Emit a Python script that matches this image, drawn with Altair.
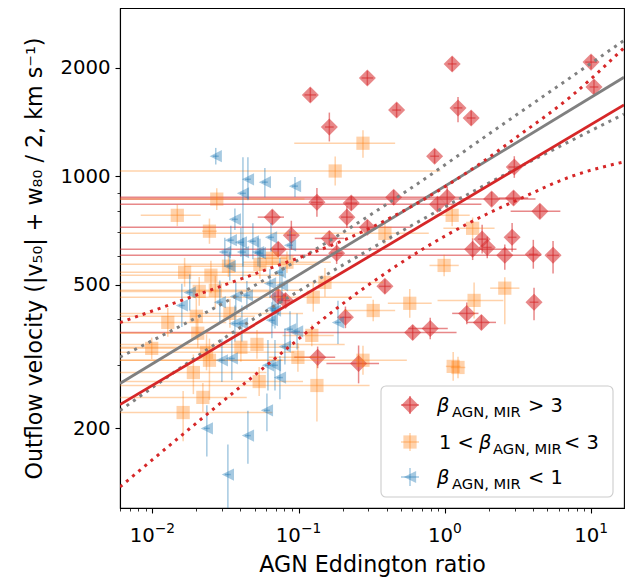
import altair as alt
import numpy as np
import pandas as pd

FONT = "DejaVu Sans"
RED = "#d62728"
ORANGE = "#ff7f0e"
BLUE = "#1f77b4"
GRAY = "#808080"

# ---------------- data (log10 values) ----------------
# beta_AGN,MIR > 3  (red diamonds)
red_log_edd = [-0.92, -0.79, -0.53, 0.05, -0.33, 0.09, 0.18, -0.07, 1.00, 1.02,
               0.475, -0.35, 0.016, -0.05, 0.32, 0.47, 0.65, 0.255, 0.29, 0.19,
               0.46, 0.41, 0.605, 0.74, -0.41, 0.61, 0.15, 0.25, -0.22, -0.10,
               -0.875, -0.64, -0.67, -1.18, -1.05, -0.79, -0.74, -1.14, -0.53, -1.14,
               -1.09, -0.68, -0.87, -0.59]
red_log_vel = [3.225, 3.136, 3.272, 3.311, 3.183, 3.189, 3.161, 3.055, 3.316, 3.247,
               3.025, 2.941, 2.941, 2.922, 2.936, 2.939, 2.902, 2.825, 2.802, 2.797,
               2.830, 2.780, 2.783, 2.780, 2.694, 2.650, 2.619, 2.594, 2.566, 2.577,
               2.927, 2.925, 2.886, 2.886, 2.836, 2.827, 2.786, 2.797, 2.858, 2.666,
               2.655, 2.608, 2.497, 2.480]
red_xerr_lo = [0.04, 0.03, 0.04, 0.03, 0.03, 0.03, 0.03, 0.03, 0.04, 0.03,
               0.04, 3.0, 0.15, 3.0, 3.0, 0.10, 0.20, 0.03, 0.03, 3.0,
               0.03, 3.0, 0.03, 0.04, 0.04, 0.03, 0.10, 0.10, 3.0, 0.15,
               0.04, 0.04, 0.04, 0.10, 0.03, 0.10, 0.04, 0.04, 3.0, 0.03,
               0.03, 0.04, 0.16, 0.22]
red_xerr_hi = [0.04, 0.03, 0.04, 0.03, 0.03, 0.03, 0.03, 0.03, 0.04, 0.03,
               0.04, 0.25, 0.10, 0.30, 0.30, 0.10, 0.14, 0.03, 0.03, 0.30,
               0.03, 0.25, 0.03, 0.04, 0.04, 0.03, 0.08, 0.10, 0.30, 0.12,
               0.04, 0.04, 0.04, 0.08, 0.03, 0.10, 0.04, 0.04, 0.30, 0.03,
               0.03, 0.04, 0.12, 0.14]
red_yerr_lo = [0.02, 0.04, 0.02, 0.02, 0.02, 0.04, 0.02, 0.02, 0.02, 0.02,
               0.03, 0.02, 0.03, 0.02, 0.02, 0.02, 0.02, 0.04, 0.03, 0.03,
               0.04, 0.04, 0.04, 0.05, 0.02, 0.05, 0.03, 0.02, 0.02, 0.03,
               0.04, 0.02, 0.03, 0.02, 0.04, 0.02, 0.03, 0.02, 0.02, 0.02,
               0.02, 0.03, 0.03, 0.055]
red_yerr_hi = [0.02, 0.04, 0.02, 0.02, 0.02, 0.03, 0.02, 0.02, 0.02, 0.02,
               0.03, 0.02, 0.03, 0.02, 0.02, 0.02, 0.02, 0.04, 0.03, 0.03,
               0.04, 0.03, 0.04, 0.04, 0.02, 0.04, 0.03, 0.02, 0.02, 0.03,
               0.04, 0.02, 0.03, 0.02, 0.04, 0.02, 0.03, 0.02, 0.02, 0.02,
               0.02, 0.03, 0.03, 0.05]

# 1 < beta_AGN,MIR < 3  (orange squares)
orange_log_edd = [-0.56, -0.75, -1.56, -1.83, -1.61, -1.78, -1.60, -1.48, -1.265, -1.08,
                  -1.68, -1.57, -1.47, -1.70, -1.895, -1.69, -2.005, -1.63, -1.61, -1.395,
                  -1.285, -1.72, -1.27, -1.655, -1.79, -1.005, -0.875, -0.90, -0.82, -0.49,
                  -0.91, -0.56, -0.41, 0.05, 0.19, -0.005, 0.41, 0.20, -0.24, 0.057,
                  0.09, -1.18]
orange_log_vel = [3.091, 3.014, 2.936, 2.891, 2.847, 2.733, 2.725, 2.750, 2.755, 2.761,
                  2.680, 2.683, 2.619, 2.611, 2.594, 2.564, 2.522, 2.511, 2.489, 2.525,
                  2.533, 2.455, 2.430, 2.386, 2.344, 2.497, 2.419, 2.664, 2.705, 2.627,
                  2.558, 2.489, 2.841, 2.891, 2.855, 2.752, 2.689, 2.655, 2.647, 2.472,
                  2.469, 2.772]
orange_xerr_lo = [0.47, 3.0, 3.0, 0.25, 0.05, 3.0, 3.0, 0.30, 3.0, 0.30,
                  3.0, 3.0, 3.0, 3.0, 3.0, 3.0, 3.0, 3.0, 3.0, 3.0,
                  3.0, 3.0, 3.0, 3.0, 3.0, 0.20, 3.0, 3.0, 3.0, 0.20,
                  0.20, 3.0, 3.0, 0.12, 0.20, 0.10, 0.10, 0.25, 0.15, 0.05,
                  0.05, 0.10]
orange_xerr_hi = [0.22, 0.72, 0.60, 0.16, 0.05, 0.50, 0.50, 0.30, 0.40, 0.30,
                  0.50, 0.60, 0.50, 0.40, 0.40, 0.50, 0.40, 0.60, 0.50, 0.40,
                  0.60, 0.50, 0.30, 0.30, 0.61, 0.15, 0.36, 0.40, 0.40, 0.15,
                  0.15, 0.30, 0.30, 0.12, 0.15, 0.10, 0.10, 0.20, 0.15, 0.05,
                  0.05, 0.10]
orange_yerr_lo = [0.04, 0.04, 0.03, 0.03, 0.035, 0.04, 0.05, 0.03, 0.04, 0.03,
                  0.04, 0.05, 0.04, 0.06, 0.04, 0.04, 0.03, 0.05, 0.11, 0.04,
                  0.04, 0.06, 0.04, 0.04, 0.08, 0.04, 0.10, 0.04, 0.04, 0.03,
                  0.03, 0.04, 0.03, 0.03, 0.03, 0.03, 0.10, 0.05, 0.04, 0.04,
                  0.03, 0.03]
orange_yerr_hi = [0.036, 0.04, 0.03, 0.03, 0.035, 0.04, 0.04, 0.03, 0.04, 0.03,
                  0.04, 0.04, 0.04, 0.05, 0.04, 0.04, 0.03, 0.05, 0.06, 0.04,
                  0.04, 0.05, 0.04, 0.04, 0.06, 0.04, 0.06, 0.04, 0.04, 0.03,
                  0.03, 0.04, 0.03, 0.03, 0.03, 0.03, 0.03, 0.05, 0.04, 0.04,
                  0.03, 0.03]

# beta_AGN,MIR < 1  (blue left triangles)
blue_log_edd = [-1.567, -1.347, -1.231, -1.025, -1.381, -1.436, -1.464, -1.395, -1.313, -1.505,
                -1.381, -1.278, -1.189, -1.059, -1.471, -1.265, -1.128, -1.114, -1.745, -1.799,
                -1.539, -1.430, -1.354, -1.196, -1.176, -1.436, -1.388, -1.183, -1.059, -1.011,
                -1.094, -1.525, -1.457, -1.210, -1.162, -1.128, -0.731, -1.628, -1.347, -1.217,
                -1.484, -1.162]
blue_log_vel = [3.055, 2.991, 2.983, 2.972, 2.952, 2.880, 2.822, 2.816, 2.819, 2.789,
                2.789, 2.789, 2.830, 2.808, 2.750, 2.786, 2.733, 2.697, 2.677, 2.641,
                2.650, 2.666, 2.669, 2.702, 2.633, 2.591, 2.591, 2.600, 2.575, 2.569,
                2.527, 2.489, 2.494, 2.475, 2.475, 2.441, 2.594, 2.300, 2.280, 2.350,
                2.172, 2.627]
blue_xerr = [0.02] * 42
blue_yerr_lo = [0.023, 0.058, 0.042, 0.03, 0.24, 0.03, 0.04, 0.04, 0.05, 0.04,
                0.04, 0.04, 0.04, 0.04, 0.04, 0.04, 0.04, 0.05, 0.05, 0.06,
                0.06, 0.04, 0.04, 0.04, 0.05, 0.05, 0.05, 0.05, 0.05, 0.05,
                0.05, 0.06, 0.06, 0.07, 0.07, 0.06, 0.06, 0.078, 0.078, 0.058,
                0.20, 0.05]
blue_yerr_hi = [0.023, 0.061, 0.039, 0.025, 0.10, 0.03, 0.04, 0.04, 0.05, 0.04,
                0.04, 0.04, 0.04, 0.04, 0.04, 0.04, 0.04, 0.05, 0.05, 0.06,
                0.06, 0.04, 0.04, 0.04, 0.05, 0.05, 0.05, 0.05, 0.05, 0.05,
                0.05, 0.06, 0.06, 0.07, 0.07, 0.06, 0.06, 0.064, 0.069, 0.047,
                0.083, 0.05]

# fitted relations
fit_all_x = [0.006, 16.8]
fit_all_y = [265.8, 1879]
fit_all_up_x = [0.006, 0.0463, 0.5176, 2.393, 16.8]
fit_all_up_y = [314.6, 488.1, 894.6, 1375.5, 2377]
fit_all_lo_x = [0.006, 0.0463, 0.3076, 1.334, 16.8]
fit_all_lo_y = [223.7, 395.2, 626.3, 875.3, 1485]
fit_red_x = [0.006, 16.8]
fit_red_y = [232.2, 1575]
fit_red_up_x = [0.006, 0.01718, 0.0457, 0.2818, 0.7079, 1.479, 3.311, 7.244, 16.8]
fit_red_up_y = [392.2, 457.2, 528, 705, 858.4, 1034.7, 1307, 1660, 2268]
fit_red_lo_x = [0.006, 0.0457, 0.2818, 0.7079, 1.479, 3.311, 7.244, 16.8]
fit_red_lo_y = [137.3, 272, 489.8, 627.5, 742.6, 867.4, 995.9, 1095]

# axis ticks
x_major = [0.01, 0.1, 1, 10]
x_major_base = ["10", "10", "10", "10"]
x_major_exp = ["\u22122", "\u22121", "0", "1"]
x_minor = [0.006, 0.007, 0.008, 0.009,
           0.02, 0.03, 0.04, 0.05, 0.06, 0.07, 0.08, 0.09,
           0.2, 0.3, 0.4, 0.5, 0.6, 0.7, 0.8, 0.9,
           2, 3, 4, 5, 6, 7, 8, 9]
y_major = [200, 500, 1000, 2000]
y_minor = [300, 400, 600, 700, 800, 900]

# ---------------- chart ----------------
TICK_FS = 19.7
SUP_FS = 13.8
TITLE_FS = 22.2

xs = alt.Scale(type="log", domain=[0.006, 16.8])
ys = alt.Scale(type="log", domain=[120, 2925])

x_major_js = "[" + ",".join(str(v) for v in x_major) + "]"
y_major_js = "[" + ",".join(str(v) for v in y_major) + "]"

x_axis = alt.Axis(
    title="AGN Eddington ratio",
    values=sorted(x_major + x_minor),
    labels=False,
    tickSize={"condition": {"test": f"indexof({x_major_js}, datum.value) >= 0", "value": 5}, "value": 3},
    tickWidth={"condition": {"test": f"indexof({x_major_js}, datum.value) >= 0", "value": 1.1}, "value": 0.8},
    titleBaseline="alphabetic", titleY=63,
)
y_axis = alt.Axis(
    title="Outflow velocity (|v\u2085\u2080| + w\u2088\u2080 / 2, km s\u207b\u00b9)",
    values=sorted(y_major + y_minor),
    labelExpr=f"indexof({y_major_js}, datum.value) >= 0 ? '' + datum.value : ''",
    tickSize={"condition": {"test": f"indexof({y_major_js}, datum.value) >= 0", "value": 5}, "value": 3},
    tickWidth={"condition": {"test": f"indexof({y_major_js}, datum.value) >= 0", "value": 1.1}, "value": 0.8},
    labelOverlap=False, labelFlush=False, labelPadding=5, titlePadding=13,
)


def group_df(lx, ly, xl, xh, yl, yh):
    lx = np.asarray(lx, float)
    ly = np.asarray(ly, float)
    return pd.DataFrame({
        "edd": 10 ** lx, "vel": 10 ** ly,
        "edd_lo": 10 ** (lx - np.asarray(xl, float)), "edd_hi": 10 ** (lx + np.asarray(xh, float)),
        "vel_lo": 10 ** (ly - np.asarray(yl, float)), "vel_hi": 10 ** (ly + np.asarray(yh, float)),
    })


def group_layers(df, color, opacity, shape, size):
    base = alt.Chart(df)
    hbar = base.mark_rule(color=color, opacity=opacity, strokeWidth=1.5, clip=True).encode(
        x=alt.X("edd_lo:Q", scale=xs, axis=x_axis), x2="edd_hi:Q",
        y=alt.Y("vel:Q", scale=ys, axis=y_axis))
    vbar = base.mark_rule(color=color, opacity=opacity, strokeWidth=1.5, clip=True).encode(
        x=alt.X("edd:Q", scale=xs, axis=x_axis),
        y=alt.Y("vel_lo:Q", scale=ys, axis=y_axis), y2="vel_hi:Q")
    pts = base.mark_point(shape=shape, size=size, filled=True, color=color, opacity=opacity,
                          strokeWidth=0, clip=True).encode(
        x=alt.X("edd:Q", scale=xs, axis=x_axis), y=alt.Y("vel:Q", scale=ys, axis=y_axis))
    return [hbar, vbar, pts]


TRI_LEFT = "M-1,0L1,-1L1,1Z"

red_df = group_df(red_log_edd, red_log_vel, red_xerr_lo, red_xerr_hi, red_yerr_lo, red_yerr_hi)
orange_df = group_df(orange_log_edd, orange_log_vel, orange_xerr_lo, orange_xerr_hi,
                     orange_yerr_lo, orange_yerr_hi)
blue_df = group_df(blue_log_edd, blue_log_vel, blue_xerr, blue_xerr, blue_yerr_lo, blue_yerr_hi)

layers = []
layers += group_layers(red_df, RED, 0.55, "diamond", 290)
layers += group_layers(orange_df, ORANGE, 0.35, "square", 175)
layers += group_layers(blue_df, BLUE, 0.4, TRI_LEFT, 150)


def line_layer(xv, yv, color, dashed):
    df = pd.DataFrame({"edd": xv, "vel": yv})
    kw = dict(color=color, strokeWidth=3 if dashed else 2.8, clip=True)
    if dashed:
        kw["strokeDash"] = [3, 5]
        kw["interpolate"] = "monotone"
    return alt.Chart(df).mark_line(**kw).encode(
        x=alt.X("edd:Q", scale=xs, axis=x_axis), y=alt.Y("vel:Q", scale=ys, axis=y_axis))


layers += [
    line_layer(fit_all_up_x, fit_all_up_y, GRAY, True),
    line_layer(fit_all_lo_x, fit_all_lo_y, GRAY, True),
    line_layer(fit_all_x, fit_all_y, GRAY, False),
    line_layer(fit_red_up_x, fit_red_up_y, RED, True),
    line_layer(fit_red_lo_x, fit_red_lo_y, RED, True),
    line_layer(fit_red_x, fit_red_y, RED, False),
]

# x tick labels as 10 with a raised exponent (placed through the x scale)
x_lab_df = pd.DataFrame({"edd": x_major, "base": x_major_base, "exp": x_major_exp})
neg = x_lab_df[x_lab_df["edd"] < 1]
pos = x_lab_df[x_lab_df["edd"] >= 1]
W10 = 2 * 0.636 * TICK_FS
for sub_df, half in ((neg, 22.8), (pos, 16.9)):
    layers.append(alt.Chart(sub_df).mark_text(
        align="left", baseline="alphabetic", font=FONT, fontSize=TICK_FS, color="black",
        dx=-half).encode(x=alt.X("edd:Q", scale=xs, axis=x_axis), y=alt.value(534),
                         text="base:N"))
    layers.append(alt.Chart(sub_df).mark_text(
        align="left", baseline="alphabetic", font=FONT, fontSize=SUP_FS, color="black",
        dx=-half + W10).encode(x=alt.X("edd:Q", scale=xs, axis=x_axis), y=alt.value(525),
                               text="exp:N"))

# ---------------- legend (drawn manually) ----------------
one = pd.DataFrame({"a": [0]})
layers.append(alt.Chart(one).mark_rect(fill="white", fillOpacity=0.8, stroke="#cccccc",
                                       strokeWidth=1.1, cornerRadius=5).encode(
    x=alt.value(261), x2=alt.value(493), y=alt.value(378), y2=alt.value(489)))

legend_rows = [
    (397, RED, 0.55, "diamond", 290),
    (434, ORANGE, 0.35, "square", 175),
    (469, BLUE, 0.4, TRI_LEFT, 150),
]
for cy, col, op, shp, sz in legend_rows:
    layers.append(alt.Chart(one).mark_rule(color=col, opacity=op, strokeWidth=1.5).encode(
        x=alt.value(281), x2=alt.value(299), y=alt.value(cy)))
    layers.append(alt.Chart(one).mark_rule(color=col, opacity=op, strokeWidth=1.5).encode(
        x=alt.value(290), y=alt.value(cy - 9), y2=alt.value(cy + 9)))
    layers.append(alt.Chart(one).mark_point(shape=shp, size=sz, filled=True, color=col,
                                            opacity=op, strokeWidth=0).encode(
        x=alt.value(290), y=alt.value(cy)))


def txt(s, x, y, size, italic=False):
    return alt.Chart(pd.DataFrame({"t": [s]})).mark_text(
        align="left", baseline="alphabetic", font=FONT, fontSize=size,
        fontStyle="italic" if italic else "normal", color="black").encode(
        x=alt.value(x), y=alt.value(y), text="t:N")


LF = 19.4
SF = 14.7
SUB = "AGN, MIR"
layers += [
    txt("\u03b2", 317, 404, LF, True), txt(SUB, 332, 409, SF), txt("> 3", 408, 404, LF),
    txt("1 <", 319, 441, LF), txt("\u03b2", 359, 441, LF, True), txt(SUB, 373, 446, SF),
    txt("< 3", 444, 441, LF),
    txt("\u03b2", 317, 476, LF, True), txt(SUB, 332, 481, SF), txt("< 1", 408, 476, LF),
]

chart = alt.layer(*layers).properties(
    width=504, height=500,
    autosize=alt.AutoSizeParams(type="none"),
    padding={"left": 112, "top": 0, "right": 4, "bottom": 70},
).configure_view(
    stroke="black", strokeWidth=1.1
).configure_axis(
    labelFont=FONT, labelFontSize=TICK_FS, labelColor="black",
    titleFont=FONT, titleFontSize=TITLE_FS, titleFontWeight="normal", titleColor="black",
    domainColor="black", domainWidth=1.1, tickColor="black", grid=False,
)

chart.save("out.html", embed_options={"renderer": "svg", "actions": False})
